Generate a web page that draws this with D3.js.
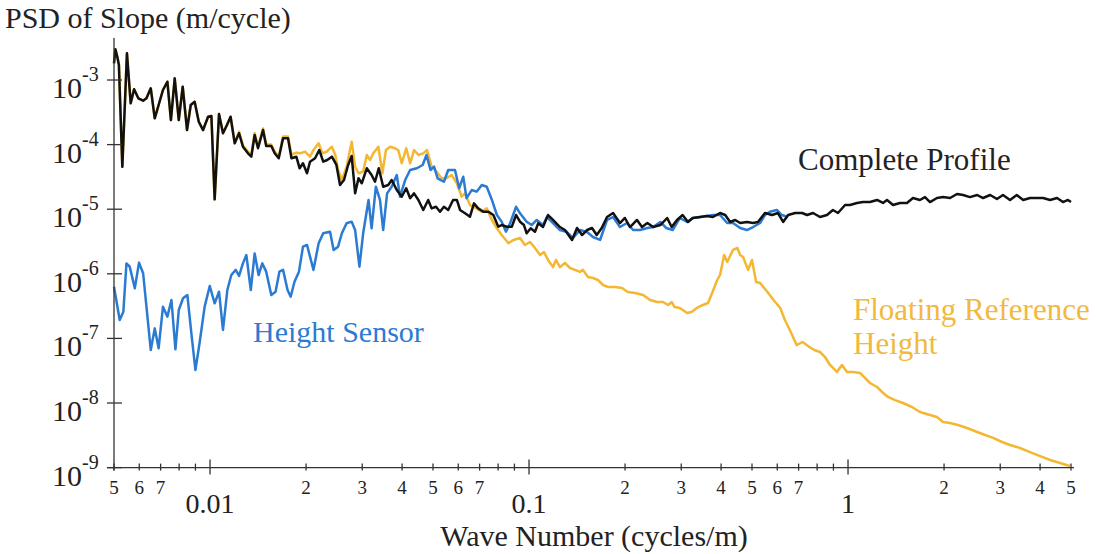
<!DOCTYPE html>
<html>
<head>
<meta charset="utf-8">
<script src="https://cdn.jsdelivr.net/npm/d3@7"></script>
<style>
  body { margin: 0; background: #fff; }
  svg text { font-family: "Liberation Serif", "DejaVu Serif", serif; fill: #222; }
</style>
</head>
<body>
<svg id="chart" width="1097" height="554"></svg>
<script>
// PSD of slope vs wave number, [wave number (cycles/m), psd (m/cycle)]
let completeProfile = [
  [0.00500,1.81e-3],[0.00505,2.99e-3],[0.00512,2.29e-3],[0.00518,1.71e-3],[0.00531,4.55e-5],[0.00549,2.59e-3],
  [0.00564,4.36e-4],[0.00578,7.18e-4],[0.00596,5.21e-4],[0.00617,4.78e-4],[0.00632,5.21e-4],[0.00652,7.44e-4],
  [0.00671,2.55e-4],[0.00690,4.10e-4],[0.00712,7.00e-4],[0.00735,9.41e-4],[0.00754,2.40e-4],[0.00775,1.06e-3],
  [0.00798,2.40e-4],[0.00821,7.88e-4],[0.00847,1.68e-4],[0.00870,4.10e-4],[0.00895,4.61e-4],[0.00922,2.26e-4],
  [0.00951,1.68e-4],[0.00986,2.70e-4],[0.0101,2.77e-4],[0.01034,1.42e-5],[0.01067,2.98e-4],[0.01098,1.50e-4],
  [0.0113,2.01e-4],[0.0116,2.70e-4],[0.01195,1.05e-4],[0.01233,1.50e-4],[0.01268,9.28e-5],[0.01315,7.33e-5],
  [0.01347,6.50e-5],[0.0138,1.41e-4],[0.01414,8.77e-5],[0.01466,1.68e-4],[0.0150,9.51e-5],[0.01556,9.50e-5],
  [0.01595,7.33e-5],[0.01642,6.14e-5],[0.01694,1.25e-4],[0.01756,1.25e-4],[0.0180,6.14e-5],[0.01864,6.50e-5],
  [0.0191,4.30e-5],[0.01956,5.14e-5],[0.02014,3.60e-5],[0.02058,5.44e-5],[0.02134,6.14e-5],[0.0220,8.25e-5],
  [0.02264,5.44e-5],[0.0233,5.78e-5],[0.0241,6.50e-5],[0.0249,4.84e-5],[0.02556,2.37e-5],[0.0263,2.83e-5],
  [0.0271,4.84e-5],[0.0278,6.66e-5],[0.0285,1.76e-5],[0.0292,3.01e-5],[0.0299,2.52e-5],[0.0310,4.30e-5],
  [0.0321,3.38e-5],[0.0329,2.66e-5],[0.0338,4.30e-5],[0.0349,2.23e-5],[0.0362,2.37e-5],[0.0371,2.83e-5],
  [0.0385,1.98e-5],[0.0399,1.56e-5],[0.0412,2.11e-5],[0.0424,1.48e-5],[0.0436,1.76e-5],[0.0450,1.39e-5],
  [0.0466,9.72e-6],[0.0483,1.39e-5],[0.0495,1.03e-5],[0.0511,1.09e-5],[0.0526,9.15e-6],[0.0541,1.09e-5],
  [0.0558,9.72e-6],[0.0578,1.39e-5],[0.0594,1.39e-5],[0.0608,9.72e-6],[0.0630,8.64e-6],[0.0653,7.65e-6],
  [0.0672,1.23e-5],[0.0693,1.03e-5],[0.0719,9.15e-6],[0.0746,9.15e-6],[0.0773,8.13e-6],[0.0801,5.36e-6],
  [0.0821,5.69e-6],[0.0851,5.36e-6],[0.0883,5.36e-6],[0.0911,8.13e-6],[0.0937,6.41e-6],[0.0964,5.69e-6],
  [0.0983,4.24e-6],[0.1012,5.06e-6],[0.1044,4.49e-6],[0.1069,6.05e-6],[0.1106,5.30e-6],[0.1147,8.13e-6],
  [0.1189,6.81e-6],[0.125,5.30e-6],[0.1296,4.76e-6],[0.1364,3.34e-6],[0.1414,5.12e-6],[0.1466,3.98e-6],
  [0.152,4.76e-6],[0.1576,5.12e-6],[0.163,3.98e-6],[0.169,5.12e-6],[0.1756,7.57e-6],[0.1834,8.73e-6],
  [0.1928,6.11e-6],[0.1998,7.31e-6],[0.2073,5.30e-6],[0.218,6.81e-6],[0.226,5.30e-6],[0.235,6.11e-6],
  [0.245,5.30e-6],[0.258,5.69e-6],[0.271,7.31e-6],[0.280,5.30e-6],[0.291,6.81e-6],[0.303,8.13e-6],
  [0.315,6.34e-6],[0.326,7.31e-6],[0.344,7.57e-6],[0.361,7.85e-6],[0.377,7.57e-6],[0.397,8.73e-6],
  [0.412,8.13e-6],[0.427,6.34e-6],[0.443,6.81e-6],[0.459,6.11e-6],[0.482,6.34e-6],[0.504,6.11e-6],
  [0.522,6.34e-6],[0.549,8.73e-6],[0.578,8.13e-6],[0.603,8.73e-6],[0.626,6.34e-6],[0.649,8.13e-6],
  [0.683,8.73e-6],[0.718,8.73e-6],[0.744,8.13e-6],[0.777,8.73e-6],[0.817,7.57e-6],[0.859,8.13e-6],
  [0.897,9.72e-6],[0.930,8.73e-6],[0.979,1.16e-5],[1.014,1.16e-5],[1.067,1.25e-5],[1.114,1.29e-5],
  [1.172,1.29e-5],[1.233,1.39e-5],[1.287,1.25e-5],[1.325,1.39e-5],[1.384,1.16e-5],[1.455,1.25e-5],
  [1.53,1.25e-5],[1.598,1.49e-5],[1.68,1.39e-5],[1.743,1.54e-5],[1.807,1.29e-5],[1.90,1.49e-5],
  [1.985,1.54e-5],[2.088,1.49e-5],[2.196,1.72e-5],[2.295,1.66e-5],[2.41,1.54e-5],[2.54,1.66e-5],
  [2.65,1.49e-5],[2.79,1.66e-5],[2.93,1.44e-5],[3.06,1.66e-5],[3.22,1.39e-5],[3.38,1.66e-5],
  [3.54,1.39e-5],[3.72,1.49e-5],[3.92,1.49e-5],[4.09,1.49e-5],[4.30,1.39e-5],[4.52,1.49e-5],
  [4.72,1.29e-5],[4.89,1.39e-5],[5.00,1.29e-5]
];

let heightSensor = [
  [0.00500,6.32e-7],[0.00521,1.93e-7],[0.00535,2.59e-7],[0.00547,1.45e-6],[0.00560,1.29e-6],[0.00581,5.97e-7],
  [0.00599,1.49e-6],[0.00617,1.02e-6],[0.00652,6.61e-8],[0.00671,1.43e-7],[0.00690,7.03e-8],[0.00712,3.10e-7],
  [0.00735,2.17e-7],[0.00757,3.93e-7],[0.00779,6.78e-8],[0.00798,2.75e-7],[0.00823,4.18e-7],[0.00849,4.70e-7],
  [0.00874,1.20e-7],[0.00900,3.24e-8],[0.00927,8.40e-8],[0.00962,3.10e-7],[0.00998,6.47e-7],[0.01034,3.49e-7],
  [0.01067,5.28e-7],[0.01098,1.35e-7],[0.01133,5.61e-7],[0.01166,9.58e-7],[0.01204,1.15e-6],[0.01233,9.25e-7],
  [0.01268,1.45e-6],[0.0130,1.95e-6],[0.01342,5.61e-7],[0.0138,2.07e-6],[0.0142,9.58e-7],[0.01458,1.45e-6],
  [0.0150,1.08e-6],[0.01556,4.70e-7],[0.01605,5.28e-7],[0.0165,1.08e-6],[0.01694,1.15e-6],[0.0175,5.61e-7],
  [0.0179,4.42e-7],[0.0184,7.55e-7],[0.0190,1.08e-6],[0.01956,2.63e-6],[0.02014,2.79e-6],[0.0211,1.15e-6],
  [0.0219,2.97e-6],[0.02264,4.24e-6],[0.02378,4.49e-6],[0.0244,2.34e-6],[0.0252,2.63e-6],[0.0259,4.24e-6],
  [0.0268,6.05e-6],[0.0278,6.41e-6],[0.0285,4.76e-6],[0.0294,1.29e-6],[0.0302,4.24e-6],[0.0314,1.39e-5],
  [0.0321,5.06e-6],[0.0331,2.23e-5],[0.0341,1.39e-5],[0.0349,4.76e-6],[0.0359,1.76e-5],[0.0371,2.23e-5],
  [0.0385,3.38e-5],[0.0394,1.56e-5],[0.0409,2.83e-5],[0.0424,4.04e-5],[0.0445,4.30e-5],[0.0464,4.84e-5],
  [0.0477,6.90e-5],[0.0491,4.04e-5],[0.0504,4.55e-5],[0.0517,3.01e-5],[0.0541,2.66e-5],[0.0558,4.04e-5],
  [0.0586,4.04e-5],[0.0604,2.11e-5],[0.0622,3.19e-5],[0.0637,1.48e-5],[0.0661,1.98e-5],[0.0685,1.87e-5],
  [0.0711,2.37e-5],[0.0737,2.23e-5],[0.0765,1.39e-5],[0.0793,8.13e-6],[0.0821,6.41e-6],[0.0847,4.49e-6],
  [0.0872,6.05e-6],[0.0911,1.09e-5],[0.0937,8.64e-6],[0.0983,6.41e-6],[0.1019,5.69e-6],[0.1057,6.81e-6],
  [0.1106,5.69e-6],[0.1138,7.57e-6],[0.1189,6.11e-6],[0.125,4.76e-6],[0.1315,4.43e-6],[0.1374,3.58e-6],
  [0.1444,4.76e-6],[0.152,4.43e-6],[0.1587,3.71e-6],[0.167,3.34e-6],[0.1756,6.81e-6],[0.1834,7.57e-6],
  [0.1928,5.30e-6],[0.2028,6.11e-6],[0.212,4.76e-6],[0.223,4.76e-6],[0.235,5.12e-6],[0.245,5.30e-6],
  [0.258,6.34e-6],[0.269,5.12e-6],[0.282,4.76e-6],[0.297,7.31e-6],[0.313,6.34e-6],[0.326,7.31e-6],
  [0.344,7.57e-6],[0.361,7.85e-6],[0.377,8.13e-6],[0.397,8.13e-6],[0.418,6.11e-6],[0.436,6.11e-6],
  [0.459,5.12e-6],[0.482,4.76e-6],[0.504,5.30e-6],[0.530,6.11e-6],[0.549,8.13e-6],[0.569,9.15e-6],
  [0.598,9.72e-6],[0.620,8.13e-6],[0.649,7.57e-6]
];

let floatingReference = [
  [0.00500,1.81e-3],[0.00505,2.99e-3],[0.00512,2.29e-3],[0.00518,1.71e-3],[0.00531,4.55e-5],[0.00549,2.59e-3],
  [0.00564,4.36e-4],[0.00578,7.18e-4],[0.00596,5.21e-4],[0.00617,4.78e-4],[0.00632,5.21e-4],[0.00652,7.44e-4],
  [0.00671,2.55e-4],[0.00690,4.10e-4],[0.00712,7.00e-4],[0.00735,9.41e-4],[0.00754,2.40e-4],[0.00775,1.06e-3],
  [0.00798,2.40e-4],[0.00821,7.88e-4],[0.00847,1.68e-4],[0.00870,4.10e-4],[0.00895,4.61e-4],[0.00922,2.26e-4],
  [0.00951,1.68e-4],[0.00986,2.70e-4],[0.0101,2.77e-4],[0.01034,1.42e-5],[0.01067,2.98e-4],[0.01098,1.50e-4],
  [0.0113,2.01e-4],[0.0116,2.70e-4],[0.01195,1.05e-4],[0.01233,1.59e-4],[0.01268,9.80e-5],[0.01315,7.80e-5],
  [0.01347,6.90e-5],[0.0138,1.50e-4],[0.01414,9.30e-5],[0.01466,1.78e-4],[0.0150,1.00e-4],[0.01556,1.00e-4],
  [0.01595,7.80e-5],[0.01642,6.50e-5],[0.01694,1.33e-4],[0.01756,1.33e-4],[0.0180,7.00e-5],[0.01864,7.50e-5],
  [0.01915,7.33e-5],[0.01985,7.76e-5],[0.02058,6.50e-5],[0.0211,8.25e-5],[0.0219,1.05e-4],[0.0225,7.33e-5],
  [0.0232,7.76e-5],[0.0241,9.28e-5],[0.0247,6.90e-5],[0.0252,4.04e-5],[0.0259,2.83e-5],[0.0268,4.55e-5],
  [0.0278,1.11e-4],[0.0285,4.55e-5],[0.0292,3.60e-5],[0.0302,3.81e-5],[0.0310,6.90e-5],[0.03175,5.78e-5],
  [0.0325,7.33e-5],[0.0337,9.28e-5],[0.0347,3.60e-5],[0.0356,8.25e-5],[0.0367,9.28e-5],[0.0380,8.77e-5],
  [0.0389,8.25e-5],[0.0399,5.14e-5],[0.0412,8.77e-5],[0.0424,5.14e-5],[0.0436,8.25e-5],[0.0450,6.90e-5],
  [0.0466,7.33e-5],[0.0479,8.25e-5],[0.0495,4.55e-5],[0.0513,3.81e-5],[0.0532,3.01e-5],[0.0551,3.01e-5],
  [0.0572,3.38e-5],[0.0594,2.52e-5],[0.0615,1.56e-5],[0.0630,1.76e-5],[0.0653,1.16e-5],[0.0685,1.03e-5],
  [0.0711,9.15e-6],[0.0737,1.03e-5],[0.0765,6.81e-6],[0.0793,5.06e-6],[0.0821,3.98e-6],[0.0862,2.97e-6],
  [0.0893,3.34e-6],[0.0937,3.58e-6],[0.0971,2.79e-6],[0.1007,3.11e-6],[0.1044,2.51e-6],[0.1083,1.95e-6],
  [0.1114,2.17e-6],[0.1147,1.64e-6],[0.1189,1.27e-6],[0.1215,1.64e-6],[0.125,1.27e-6],[0.1296,1.47e-6],
  [0.1344,1.23e-6],[0.1394,1.15e-6],[0.1444,1.07e-6],[0.1476,1.15e-6],[0.153,8.92e-7],[0.1587,8.61e-7],
  [0.1645,8.02e-7],[0.1706,6.71e-7],[0.1769,6.25e-7],[0.186,6.25e-7],[0.1956,6.03e-7],[0.204,5.23e-7],
  [0.215,5.04e-7],[0.228,4.70e-7],[0.2395,3.93e-7],[0.252,3.66e-7],[0.263,3.66e-7],[0.273,3.29e-7],
  [0.280,3.66e-7],[0.286,3.06e-7],[0.297,2.96e-7],[0.313,2.47e-7],[0.323,2.56e-7],[0.336,2.96e-7],
  [0.351,3.29e-7],[0.364,3.53e-7],[0.375,5.04e-7],[0.389,8.02e-7],[0.397,9.58e-7],[0.409,1.95e-6],
  [0.418,1.52e-6],[0.436,2.34e-6],[0.450,2.51e-6],[0.459,1.95e-6],[0.469,1.82e-6],[0.486,1.15e-6],
  [0.500,1.64e-6],[0.515,7.47e-7],[0.530,7.20e-7],[0.559,5.23e-7],[0.584,3.93e-7],[0.613,2.96e-7],
  [0.634,1.93e-7],[0.657,1.35e-7],[0.690,7.90e-8],[0.720,8.80e-8],[0.757,7.36e-8],[0.784,6.61e-8],
  [0.817,6.16e-8],[0.847,5.15e-8],[0.878,3.88e-8],[0.923,3.02e-8],[0.957,3.88e-8],[0.993,3.02e-8],
  [1.037,3.02e-8],[1.09,2.92e-8],[1.13,2.44e-8],[1.172,2.04e-8],[1.233,1.77e-8],[1.278,1.48e-8],
  [1.335,1.24e-8],[1.404,1.11e-8],[1.487,1.00e-8],[1.587,8.67e-9],[1.68,7.26e-9],[1.807,6.52e-9],
  [1.90,6.07e-9],[1.985,5.08e-9],[2.088,4.90e-9],[2.212,4.57e-9],[2.36,4.10e-9],[2.54,3.56e-9],
  [2.69,3.20e-9],[2.85,2.88e-9],[3.04,2.49e-9],[3.22,2.24e-9],[3.46,2.01e-9],[3.72,1.74e-9],
  [4.00,1.51e-9],[4.30,1.31e-9],[4.62,1.18e-9],[4.96,1.06e-9]
];

let yDecades = [-9, -8, -7, -6, -5, -4, -3];
let xMajorTicks = [0.01, 0.1, 1];
let xMajorLabels = ['0.01', '0.1', '1'];
let xMinorTicks = [0.005, 0.006, 0.007, 0.008, 0.009,
  0.02, 0.03, 0.04, 0.05, 0.06, 0.07, 0.08, 0.09,
  0.2, 0.3, 0.4, 0.5, 0.6, 0.7, 0.8, 0.9,
  2, 3, 4, 5];
let xMinorLabels = ['5', '6', '7', '', '',
  '2', '3', '4', '5', '6', '7', '', '',
  '2', '3', '4', '5', '6', '7', '', '',
  '2', '3', '4', '5'];

let colors = {profile: '#111111', sensor: '#2b7bd3', floating: '#f4b731', floatingText: '#f1b93e'};

let svg = d3.select('#chart');
let x = d3.scaleLog().domain([0.005, 5]).range([114, 1071]);
let y = d3.scaleLog().domain([1e-9, 4.47e-3]).range([467.6, 38]);
let x0 = x(0.005), y0 = y(1e-9);

let line = d3.line().x(d => x(d[0])).y(d => y(d[1]));

// curves: floating first, black profile on top
let curves = svg.append('g').attr('fill', 'none').attr('stroke-linejoin', 'round').attr('stroke-width', 2.5);
curves.append('path').datum(floatingReference).attr('d', line).attr('stroke', colors.floating);
curves.append('path').datum(heightSensor).attr('d', line).attr('stroke', colors.sensor);
curves.append('path').datum(completeProfile).attr('d', line).attr('stroke', colors.profile);

// axes
let axis = svg.append('g').attr('stroke', '#333').attr('stroke-width', 1.3);
axis.append('line').attr('x1', x0).attr('x2', x0).attr('y1', 38).attr('y2', y0 + 3);
axis.append('line').attr('x1', x0 - 7).attr('x2', x(5) + 3).attr('y1', y0).attr('y2', y0);

yDecades.forEach(e => {
  let v = Math.pow(10, e);
  let ty = y(v);
  axis.append('line').attr('x1', x0 - 7).attr('x2', x0 + 8).attr('y1', ty).attr('y2', ty);
  svg.append('text').attr('x', 82).attr('y', ty + 18).attr('text-anchor', 'end')
    .style('font-size', '30px').text('10');
  svg.append('text').attr('x', 82).attr('y', ty + 1)
    .style('font-size', '20px').text(String(e));
});

xMinorTicks.forEach((v, i) => {
  axis.append('line').attr('x1', x(v)).attr('x2', x(v)).attr('y1', y0 - 4).attr('y2', y0 + 3);
  if (xMinorLabels[i]) {
    svg.append('text').attr('x', x(v)).attr('y', y0 + 26).attr('text-anchor', 'middle')
      .style('font-size', '19px').text(xMinorLabels[i]);
  }
});

xMajorTicks.forEach((v, i) => {
  axis.append('line').attr('x1', x(v)).attr('x2', x(v)).attr('y1', y0 - 8).attr('y2', y0 + 7);
  svg.append('text').attr('x', x(v)).attr('y', y0 + 45).attr('text-anchor', 'middle')
    .style('font-size', '28px').text(xMajorLabels[i]);
});

// titles
svg.append('text').attr('x', 5).attr('y', 28).style('font-size', '30px').text('PSD of Slope (m/cycle)');
svg.append('text').attr('x', 594).attr('y', 546).attr('text-anchor', 'middle')
  .style('font-size', '30px').text('Wave Number (cycles/m)');

// series annotations
svg.append('text').attr('x', 798).attr('y', 170).style('font-size', '31px').text('Complete Profile');
svg.append('text').attr('x', 253).attr('y', 342).style('font-size', '30px')
  .style('fill', colors.sensor).text('Height Sensor');
svg.append('text').attr('x', 853).attr('y', 320).style('font-size', '31px')
  .style('fill', colors.floatingText).text('Floating Reference');
svg.append('text').attr('x', 853).attr('y', 354).style('font-size', '31px')
  .style('fill', colors.floatingText).text('Height');
</script>
</body>
</html>
